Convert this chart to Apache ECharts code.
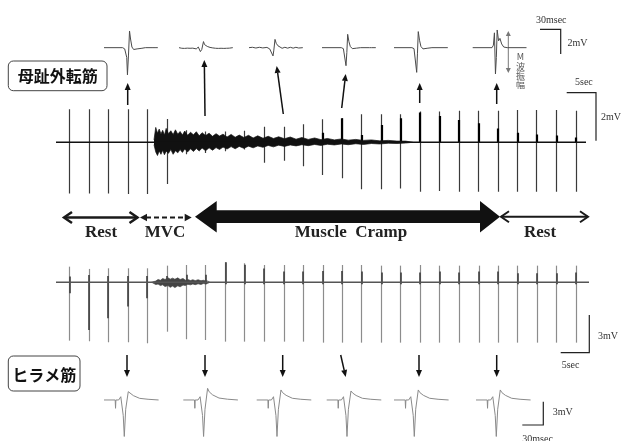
<!DOCTYPE html>
<html lang="ja">
<head>
  <meta http-equiv="Content-Type" content="text/html; charset=UTF-8">
  <title>M波と筋痙攣</title>
  <style>html, body { margin: 0; padding: 0; background: #fff; }</style>
</head>
<body>
  <div id="chart" style="width: 621px; height: 441px;"></div>
  <script src="https://cdn.jsdelivr.net/npm/echarts@6/dist/echarts.min.js"></script>
  <script>
    // 刺激時刻 (sec) 両筋共通
    const stimTimes = [2.3, 5.7, 9.0, 12.4, 15.7, 19.1, 22.5, 25.8, 29.2, 32.5, 35.9, 39.3, 42.6, 46.0,
      49.3, 52.7, 56.1, 59.4, 62.8, 66.1, 69.5, 72.9, 76.2, 79.6, 82.9, 86.3, 89.7];

    // 母趾外転筋 (mV)
    const ahUp = [1.38, 1.38, 1.38, 1.38, 1.38, 0.97, 0.5, 0.45, 0.45, 0.48, 0.65, 0.65, 0.75, 0.96,
      1.0, 1.17, 1.17, 1.17, 1.28, 1.28, 1.31, 1.31, 1.31, 1.35, 1.35, 1.35, 1.31];
    const ahDown = [2.13, 2.13, 2.13, 2.15, 2.15, 1.74, 0.5, 0.45, 0.37, 0.3, 0.85, 0.77, 1.0, 1.36,
      1.5, 1.96, 1.96, 1.93, 2.06, 2.03, 2.06, 2.06, 2.06, 2.06, 2.06, 2.06, 2.06];
    const ahM = [0, 0, 0, 0, 0, 0, 0, 0, 0, 0, 0, 0, 0, 0.4, 1.0, 0.3, 0.72, 1.0, 1.24, 1.1, 0.93,
      0.79, 0.58, 0.4, 0.33, 0.28, 0.2];
    const emgTimes = [16.9, 17.2, 17.5, 17.8, 18.1, 18.4, 18.7, 19.0, 19.4, 19.8,
      20.2, 20.6, 21.0, 21.4, 21.8, 22.2, 22.7, 23.2, 23.7, 24.2,
      24.7, 25.2, 25.8, 26.4, 27.0, 27.6, 28.2, 28.8, 29.5, 30.2,
      30.9, 31.6, 32.4, 33.2, 34.0, 34.8, 35.7, 36.6, 37.5, 38.4,
      39.4, 40.4, 41.4, 42.4, 43.5, 44.6, 45.7, 46.8, 48.0, 49.2,
      50.4, 51.7, 53.0, 54.4, 55.8, 57.3, 58.8, 60.3, 61.5];
    const emgUpper = [0.1, 0.62, 0.38, 0.55, 0.35, 0.5, 0.3, 0.58, 0.36, 0.48,
      0.32, 0.52, 0.34, 0.45, 0.3, 0.47, 0.29, 0.42, 0.31, 0.44,
      0.27, 0.4, 0.28, 0.38, 0.25, 0.36, 0.26, 0.34, 0.22, 0.33,
      0.21, 0.3, 0.2, 0.29, 0.18, 0.27, 0.17, 0.25, 0.16, 0.23,
      0.15, 0.22, 0.13, 0.2, 0.12, 0.18, 0.11, 0.16, 0.1, 0.14,
      0.09, 0.12, 0.08, 0.1, 0.06, 0.08, 0.05, 0.05, 0];
    const emgLower = [-0.1, -0.4, -0.55, -0.36, -0.5, -0.33, -0.52, -0.37, -0.46, -0.3,
      -0.5, -0.35, -0.44, -0.3, -0.42, -0.28, -0.4, -0.27, -0.38, -0.26,
      -0.36, -0.24, -0.35, -0.23, -0.33, -0.22, -0.3, -0.2, -0.28, -0.18,
      -0.27, -0.17, -0.25, -0.16, -0.23, -0.15, -0.21, -0.13, -0.19, -0.12,
      -0.17, -0.11, -0.15, -0.1, -0.14, -0.09, -0.13, -0.08, -0.11, -0.07,
      -0.1, -0.06, -0.09, -0.05, -0.07, -0.04, -0.05, -0.03, 0];

    // ヒラメ筋 (mV)
    const solUp = [1.24, 1.06, 1.11, 1.11, 1.11, 1.32, 1.37, 1.37, 1.59, 1.51, 1.37, 1.37, 1.37, 1.37,
      1.37, 1.37, 1.32, 1.32, 1.37, 1.32, 1.32, 1.32, 1.32, 1.32, 1.32, 1.32, 1.32];
    const solDown = [4.63, 4.68, 4.76, 4.76, 4.84, 3.92, 4.52, 4.58, 4.71, 4.71, 4.71, 4.71, 4.71, 4.79,
      4.79, 4.79, 4.79, 4.79, 4.79, 4.79, 4.79, 4.79, 4.79, 4.79, 4.79, 4.79, 4.79];
    const solDarkUp = [0.45, 0.58, 0.5, 0.5, 0.5, 0.5, 0.6, 0.6, 1.59, 1.4, 1.1, 0.85, 0.85, 0.9, 0.9,
      0.85, 0.77, 0.77, 0.77, 0.85, 0.77, 0.85, 0.85, 0.71, 0.71, 0.71, 0.77];
    const solDarkDown = [0.87, 3.78, 2.86, 1.93, 1.27, 0.2, 0.15, 0.15, 0.15, 0.15, 0.15, 0.15, 0.15,
      0.15, 0.15, 0.15, 0.15, 0.15, 0.15, 0.15, 0.15, 0.15, 0.15, 0.15, 0.15, 0.15, 0.15];
    const solEmgTimes = [16.5, 16.8, 17.2, 17.6, 18.0, 18.4, 18.8, 19.3, 19.7, 20.1, 20.5, 21.0, 21.4,
      21.9, 22.3, 22.7, 23.2, 23.6, 24.0, 24.5, 25.0, 25.4, 25.8, 26.2, 26.5];
    const solEmgUpper = [0, 0.15, 0.1, 0.22, 0.16, 0.3, 0.22, 0.36, 0.25, 0.33, 0.24, 0.35, 0.22, 0.3,
      0.17, 0.22, 0.14, 0.2, 0.13, 0.2, 0.12, 0.16, 0.1, 0.1, 0];
    const solEmgLower = [0, -0.12, -0.18, -0.14, -0.26, -0.2, -0.34, -0.26, -0.4, -0.3, -0.42, -0.28,
      -0.36, -0.22, -0.26, -0.16, -0.2, -0.13, -0.19, -0.12, -0.17, -0.1, -0.12, -0.08, 0];

    // 拡大波形 (ms, mV)
    const ahWaves = [
      [[0, 0], [27, 0], [30, -0.1], [31.5, 0.05], [33, -0.8], [34, -2.2], [35.5, -0.6], [37, 1.35], [38.5, 0.7],
        [40.5, 0.05], [43, -0.15], [48, -0.1], [55, -0.05], [60, 0], [71, 0], [72, 0.1], [73, -0.1], [74, 0], [78, 0]],
      [[0, 0], [2, 0.08], [4, -0.05], [6, 0.06], [8, -0.06], [10, 0.08], [12, -0.04], [14, 0.06], [16, -0.05],
        [18, 0.07], [20, -0.04], [22, 0.05], [25, -0.1], [28, 0.05], [31, -0.32], [33, -0.15], [35.5, 0.49],
        [37, 0.25], [39, 0.15], [41, 0.1], [43, 0.12], [45, 0.02], [47, 0.1], [49, -0.02], [51, 0.08], [53, -0.05],
        [55, 0.07], [57, -0.06], [59, 0.06], [61, -0.05], [63, 0.08], [65, -0.06], [67, 0.07], [69, -0.05],
        [71, 0.08], [73, -0.04], [75, 0.06], [78, 0]],
      [[0, 0], [5, 0.03], [10, -0.03], [15, 0.03], [20, -0.02], [26, 0.02], [30, -0.1], [32, 0.05], [34.8, -0.67],
        [36, -0.2], [37.7, 0.67], [39.5, 0.35], [42, 0.15], [45, 0.05], [48, -0.05], [52, 0.03], [56, -0.04],
        [60, 0.03], [64, -0.04], [68, 0.03], [72, -0.03], [78, 0]],
      [[0, 0], [28, 0], [31, -0.08], [32.5, 0.05], [34.8, -1.46], [36, -0.4], [37.2, 1.08], [39, 0.5], [41, 0.1],
        [44, -0.08], [50, -0.04], [56, 0], [69, 0], [70, 0.1], [71, -0.08], [72, 0], [78, 0]],
      [[0, 0], [26, 0], [29, -0.08], [30.5, 0.05], [32.9, -2.0], [34, -0.5], [35.2, 1.3], [37, 0.6], [39, 0.1],
        [42, -0.1], [48, -0.05], [55, 0], [78, 0]],
      [[0, 0], [28, 0], [30, 0.2], [31.5, 1.2], [33, -2.13], [34.3, -0.8], [35.5, 1.43], [37.5, 0.55],
        [39.5, 0.75], [42, 0.3], [45, 0.05], [50, 0], [78, 0]]
    ];
    const solWaveTimes = [0, 16, 16.5, 17, 21, 24, 26, 27.5, 29, 31, 34.7, 37, 42, 51, 63, 78];
    const solWaves = [
      [0, 0, -1.07, 0, 0, 0.42, 0.25, -2.0, -4.7, -1.2, 1.07, 0.86, 0.56, 0.21, 0.09, 0],
      [0, 0, -1.07, 0, 0, 0.42, 0.25, -2.0, -4.7, -1.2, 1.5, 1.05, 0.65, 0.25, 0.1, 0],
      [0, 0, -1.07, 0, 0, 0.42, 0.25, -2.0, -4.7, -1.2, 1.29, 0.95, 0.6, 0.22, 0.09, 0],
      [0, 0, -1.07, 0, 0, 0.42, 0.25, -2.0, -4.7, -1.2, 1.16, 0.9, 0.58, 0.22, 0.09, 0],
      [0, 0, -1.07, 0, 0, 0.42, 0.25, -2.0, -4.7, -1.2, 1.29, 0.95, 0.6, 0.22, 0.09, 0],
      [0, 0, -1.07, 0, 0, 0.42, 0.25, -2.0, -4.7, -1.2, 1.29, 0.95, 0.6, 0.22, 0.09, 0]
    ];

    const phaseLabels = ['Rest', 'MVC', 'Muscle  Cramp', 'Rest'];

    // レイアウト (px)
    const ahInsetLeft = [104, 179, 249, 322, 394, 472.7];
    const solInsetLeft = [104, 183.3, 256.7, 326.7, 394, 476];

    const grids = [], xAxes = [], yAxes = [], series = [];
    function addGrid(g, xr, yr) {
      grids.push(Object.assign({ show: false }, g));
      const i = grids.length - 1;
      xAxes.push({ type: 'value', gridIndex: i, show: false, min: xr[0], max: xr[1] });
      yAxes.push({ type: 'value', gridIndex: i, show: false, min: yr[0], max: yr[1] });
      return i;
    }
    function lineSeries(gi, data, color, width, extra) {
      series.push(Object.assign({
        type: 'line', xAxisIndex: gi, yAxisIndex: gi, data: data, symbol: 'none', silent: true,
        lineStyle: { color: color, width: width }
      }, extra || {}));
    }
    function segSeries(gi, data, color, width) {
      series.push({
        type: 'lines', coordinateSystem: 'cartesian2d', xAxisIndex: gi, yAxisIndex: gi, silent: true,
        data: data, lineStyle: { color: color, width: width, opacity: 1, curveness: 0 }
      });
    }
    function band(gi, times, upper, lower, color) {
      const area = { areaStyle: { color: color, opacity: 1 } };
      lineSeries(gi, times.map((t, i) => [t, upper[i]]), color, 0.7, area);
      lineSeries(gi, times.map((t, i) => [t, lower[i]]), color, 0.7, area);
    }

    // 母趾外転筋 トレース
    const gTop = addGrid({ left: 56, top: 103.9, width: 530, height: 91.2 }, [0, 91.4], [-2.2, 1.6]);
    band(gTop, emgTimes, emgUpper, emgLower, '#111');
    lineSeries(gTop, [[0, 0], [91.4, 0]], '#111', 1.6);
    segSeries(gTop, stimTimes.map((t, i) => ({ coords: [[t, ahUp[i]], [t, -ahDown[i]]] })), '#3a3a3a', 1.2);
    segSeries(gTop, stimTimes.map((t, i) => ({ coords: [[t, 0], [t, ahM[i]]] })).filter((d, i) => ahM[i] > 0), '#000', 2.2);

    // ヒラメ筋 トレース
    const gBot = addGrid({ left: 56, top: 259.6, width: 533, height: 85.7 }, [0, 91.9], [-5, 1.8]);
    band(gBot, solEmgTimes, solEmgUpper, solEmgLower, '#444');
    lineSeries(gBot, [[0, 0], [91.9, 0]], '#555', 1.4);
    segSeries(gBot, stimTimes.map((t, i) => ({ coords: [[t, solUp[i]], [t, -solDown[i]]] })), '#8c8c8c', 1.2);
    segSeries(gBot, stimTimes.map((t, i) => ({ coords: [[t, solDarkUp[i]], [t, -solDarkDown[i]]] })), '#3c3c3c', 1.6);

    // 拡大波形
    ahWaves.forEach((w, k) => {
      const gi = addGrid({ left: ahInsetLeft[k], top: 27.9, width: 53.8, height: 49.4 }, [0, 78], [-2.4, 1.6]);
      lineSeries(gi, w, '#4a4a4a', 1);
    });
    solWaves.forEach((w, k) => {
      const gi = addGrid({ left: solInsetLeft[k], top: 386, width: 55, height: 52.8 }, [0, 78.6], [-5, 1.8]);
      lineSeries(gi, solWaveTimes.map((t, i) => [t, w[i]]), '#8a8a8a', 1);
    });

    // 注釈
    function arrow(x1, y1, x2, y2, color, w, L, H) {
      L = L || 7; H = H || 3;
      const a = Math.atan2(y2 - y1, x2 - x1);
      const bx = x2 - L * Math.cos(a), by = y2 - L * Math.sin(a);
      const px = -Math.sin(a) * H, py = Math.cos(a) * H;
      return [
        { type: 'line', silent: true, shape: { x1: x1, y1: y1, x2: bx, y2: by }, style: { stroke: color, lineWidth: w } },
        { type: 'polygon', silent: true, shape: { points: [[x2, y2], [bx + px, by + py], [bx - px, by - py]] }, style: { fill: color } }
      ];
    }
    function chevron(x, y, dir, w) {
      return { type: 'polyline', silent: true,
        shape: { points: [[x + dir * 8, y - 5.5], [x, y], [x + dir * 8, y + 5.5]] },
        style: { stroke: '#1a1a1a', lineWidth: w, fill: null } };
    }
    function text(t, x, y, font, fill, align, vAlign) {
      return { type: 'text', silent: true, style: { text: t, x: x, y: y, font: font, fill: fill,
        textAlign: align || 'center', textVerticalAlign: vAlign || 'middle' } };
    }
    function bar(points) {
      return { type: 'polyline', silent: true, shape: { points: points }, style: { stroke: '#222', lineWidth: 1.2, fill: null } };
    }

    const small = '10px "Liberation Serif"';
    const phaseFont = 'bold 17px "Liberation Serif"';
    const graphic = [].concat(
      arrow(127.7, 105, 127.7, 83, '#111', 1.5),
      arrow(205, 116, 204.3, 60, '#111', 1.5),
      arrow(283.3, 114, 276.7, 66, '#111', 1.5),
      arrow(341.7, 108, 345.7, 74, '#111', 1.5),
      arrow(419.7, 103, 419.7, 83, '#111', 1.5),
      arrow(496.7, 104, 496.7, 83, '#111', 1.5),
      arrow(127, 355, 127, 377, '#111', 1.5),
      arrow(205, 355, 205, 377, '#111', 1.5),
      arrow(282.7, 355, 282.7, 377, '#111', 1.5),
      arrow(340.7, 355, 345.7, 377, '#111', 1.5),
      arrow(419, 355, 419, 377, '#111', 1.5),
      arrow(496.7, 355, 496.7, 377, '#111', 1.5),
      arrow(508.3, 52, 508.3, 31, '#777', 1, 5, 2.5),
      arrow(508.3, 52, 508.3, 73, '#777', 1, 5, 2.5),
      [
        text('M', 520.5, 57, '9px "Noto Sans CJK JP"', '#555'),
        text('波\n振\n幅', 520.5, 62, '9px "Noto Sans CJK JP"', '#555', 'center', 'top'),
        bar([[540, 29.3], [560.7, 29.3], [560.7, 54]]),
        text('30msec', 536, 20, small, '#333', 'left'),
        text('2mV', 567.5, 43.3, small, '#333', 'left'),
        bar([[566.7, 92.7], [596, 92.7], [596, 140.7]]),
        text('5sec', 575, 82.7, small, '#333', 'left'),
        text('2mV', 601, 117.5, small, '#333', 'left'),
        bar([[560.7, 352.7], [589.3, 352.7], [589.3, 315]]),
        text('3mV', 598, 336.7, small, '#333', 'left'),
        text('5sec', 561.7, 365.7, small, '#333', 'left'),
        bar([[522.3, 425], [543.3, 425], [543.3, 401.7]]),
        text('3mV', 552.7, 412.3, small, '#333', 'left'),
        text('30msec', 522.3, 434, small, '#333', 'left', 'top'),

        // 区間矢印
        { type: 'line', silent: true, shape: { x1: 64, y1: 217.5, x2: 137.5, y2: 217.5 }, style: { stroke: '#1a1a1a', lineWidth: 2.5 } },
        chevron(64, 217.5, 1, 2.5), chevron(137.5, 217.5, -1, 2.5),
        { type: 'line', silent: true, shape: { x1: 146, y1: 217.5, x2: 186, y2: 217.5 }, style: { stroke: '#1a1a1a', lineWidth: 2, lineDash: [5, 3] } },
        { type: 'polygon', silent: true, shape: { points: [[140, 217.5], [147, 213.8], [147, 221.2]] }, style: { fill: '#1a1a1a' } },
        { type: 'polygon', silent: true, shape: { points: [[191.7, 217.5], [184.7, 213.8], [184.7, 221.2]] }, style: { fill: '#1a1a1a' } },
        { type: 'polygon', silent: true, shape: { points: [[195, 216.7], [216.7, 201], [216.7, 210.3], [480, 210.3], [480, 201],
          [500, 216.7], [480, 232.5], [480, 223], [216.7, 223], [216.7, 232.5]] }, style: { fill: '#111' } },
        { type: 'line', silent: true, shape: { x1: 501, y1: 216.7, x2: 588, y2: 216.7 }, style: { stroke: '#1a1a1a', lineWidth: 2 } },
        chevron(501, 216.7, 1, 2), chevron(588, 216.7, -1, 2),
        text(phaseLabels[0], 101, 233, phaseFont, '#222'),
        text(phaseLabels[1], 165, 233, phaseFont, '#222'),
        text(phaseLabels[2], 351, 233, phaseFont, '#222'),
        text(phaseLabels[3], 540, 233, phaseFont, '#222'),

        // 筋名ラベル
        { type: 'rect', silent: true, shape: { x: 8.3, y: 61, width: 98.7, height: 29.7, r: 5 }, style: { stroke: '#444', lineWidth: 1, fill: '#fff' } },
        text('母趾外転筋', 57.7, 76, 'bold 16px "Noto Sans CJK JP"', '#111'),
        { type: 'rect', silent: true, shape: { x: 8.3, y: 356, width: 71.7, height: 35, r: 5 }, style: { stroke: '#444', lineWidth: 1, fill: '#fff' } },
        text('ヒラメ筋', 44.2, 374.5, 'bold 16px "Noto Sans CJK JP"', '#111')
      ]
    );

    const chart = echarts.init(document.getElementById('chart'));
    chart.setOption({
      animation: false,
      backgroundColor: '#fff',
      grid: grids,
      xAxis: xAxes,
      yAxis: yAxes,
      series: series,
      graphic: graphic
    });
  </script>
</body>
</html>
